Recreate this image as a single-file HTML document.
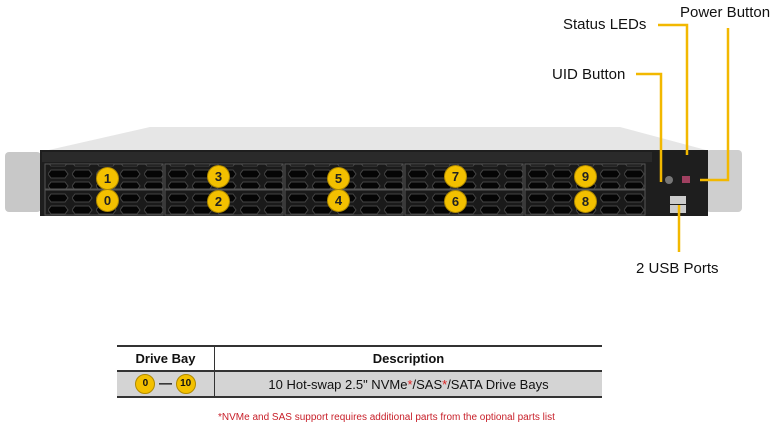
<!DOCTYPE html>
<html><head><style>
body{margin:0;background:#fff;width:784px;height:448px;overflow:hidden;font-family:"Liberation Sans",sans-serif;position:relative}
.l{position:absolute;font-size:15px;color:#111}
.b{position:absolute;width:23px;height:23px;border-radius:50%;background:#f3c000;border:1px solid #b08a00;box-sizing:border-box;text-align:center;line-height:21px;font-size:13px;font-weight:bold;color:#222}
</style></head><body>
<svg width="784" height="448" style="position:absolute;left:0;top:0">
<defs><pattern id="hx" width="24" height="12" patternUnits="userSpaceOnUse"><rect width="24" height="12" fill="#1a1a1a"/><path d="M3 2h14l3 4-3 4H3L0 6z" fill="#050505" stroke="#444" stroke-width="1"/></pattern></defs>
<polygon points="40,152 150,127 620,127 706,150" fill="#e6e6e6"/>
<rect x="5" y="152" width="36" height="60" rx="4" fill="#c8c8c8"/>
<rect x="706" y="150" width="36" height="62" rx="4" fill="#cfcfcf"/>
<rect x="40" y="150" width="668" height="66" fill="#1e1e1e"/>
<rect x="42" y="152" width="610" height="10" fill="#2a2a2a"/>
<g stroke="#555" stroke-width="1">
<rect x="45" y="164" width="118" height="25" fill="url(#hx)"/><rect x="45" y="190" width="118" height="25" fill="url(#hx)"/>
<rect x="165" y="164" width="118" height="25" fill="url(#hx)"/><rect x="165" y="190" width="118" height="25" fill="url(#hx)"/>
<rect x="285" y="164" width="118" height="25" fill="url(#hx)"/><rect x="285" y="190" width="118" height="25" fill="url(#hx)"/>
<rect x="405" y="164" width="118" height="25" fill="url(#hx)"/><rect x="405" y="190" width="118" height="25" fill="url(#hx)"/>
<rect x="525" y="164" width="120" height="25" fill="url(#hx)"/><rect x="525" y="190" width="120" height="25" fill="url(#hx)"/>
</g>
<rect x="670" y="196" width="16" height="8" fill="#ccc"/><rect x="670" y="205" width="16" height="8" fill="#ccc"/>
<circle cx="669" cy="180" r="4" fill="#777"/><rect x="682" y="176" width="8" height="7" fill="#a04060"/>
<g stroke="#f2b800" stroke-width="2.5" fill="none">
<polyline points="658,25 687,25 687,155"/>
<polyline points="636,74 661,74 661,182"/>
<polyline points="728,28 728,180 700,180"/>
<line x1="679" y1="205" x2="679" y2="252"/>
</g>
</svg>
<div class="l" style="left:563px;top:16px">Status LEDs</div>
<div class="l" style="left:680px;top:4px">Power Button</div>
<div class="l" style="left:552px;top:66px">UID Button</div>
<div class="l" style="left:636px;top:260px">2 USB Ports</div>
<div class="b" style="left:96px;top:167px">1</div><div class="b" style="left:96px;top:189px">0</div>
<div class="b" style="left:207px;top:165px">3</div><div class="b" style="left:207px;top:190px">2</div>
<div class="b" style="left:327px;top:167px">5</div><div class="b" style="left:327px;top:189px">4</div>
<div class="b" style="left:444px;top:165px">7</div><div class="b" style="left:444px;top:190px">6</div>
<div class="b" style="left:574px;top:165px">9</div><div class="b" style="left:574px;top:190px">8</div>
<table style="position:absolute;left:117px;top:345px;width:485px;border-collapse:collapse;font-size:13px;color:#111">
<tr style="height:25px"><td style="width:95px;text-align:center;font-weight:bold;border-top:2px solid #333;border-right:1px solid #333">Drive Bay</td><td style="text-align:center;font-weight:bold;border-top:2px solid #333">Description</td></tr>
<tr style="height:26px;background:#d4d4d4"><td style="text-align:center;border-top:2px solid #333;border-bottom:2px solid #333;border-right:1px solid #333"><span style="display:inline-block;width:18px;height:18px;border-radius:50%;background:#f3c000;border:1px solid #b08a00;font-size:10px;font-weight:bold;line-height:18px;vertical-align:middle">0</span> <b>—</b> <span style="display:inline-block;width:18px;height:18px;border-radius:50%;background:#f3c000;border:1px solid #b08a00;font-size:10px;font-weight:bold;line-height:18px;vertical-align:middle">10</span></td>
<td style="text-align:center;border-top:2px solid #333;border-bottom:2px solid #333">10 Hot-swap 2.5" NVMe<span style="color:#d22">*</span>/SAS<span style="color:#d22">*</span>/SATA Drive Bays</td></tr>
</table>
<div style="position:absolute;left:218px;top:412px;font-size:10px;color:#c8202a">*NVMe and SAS support requires additional parts from the optional parts list</div>
</body></html>
